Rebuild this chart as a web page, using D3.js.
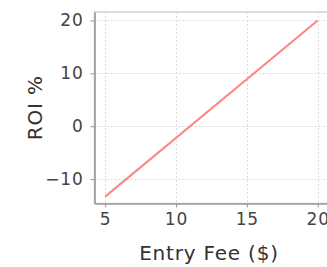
<!DOCTYPE html>
<html>
<head>
<meta charset="utf-8">
<script src="https://cdn.jsdelivr.net/npm/d3@7"></script>
<style>
  body { margin: 0; background: #fff; }
  svg { display: block; }
</style>
</head>
<body>
<div id="chart"></div>
<script>
var fees = [5, 20],
    roi = [-13.3, 20],
    xTicks = [5, 10, 15, 20],
    yTicks = [-10, 0, 10, 20];

var W = 327, H = 267,
    pl = 94.5, pt = 12, pr = 328.3, pb = 203.5;

var x = d3.scaleLinear().domain([4.25, 20.75]).range([pl, pr]);
var y = d3.scaleLinear().domain([-14.6, 21.6]).range([pb, pt]);

var svg = d3.select("#chart").append("svg")
    .attr("width", W)
    .attr("height", H);

// plot frame
svg.append("rect")
    .attr("x", pl).attr("y", pt)
    .attr("width", pr - pl).attr("height", pb - pt)
    .attr("fill", "#fff")
    .attr("stroke", "#cfcfcf")
    .attr("stroke-width", 1.5);

// grid
svg.append("g").selectAll("line")
    .data(xTicks)
  .enter().append("line")
    .attr("x1", function(d) { return Math.round(x(d)) + 0.5; })
    .attr("x2", function(d) { return Math.round(x(d)) + 0.5; })
    .attr("y1", pt).attr("y2", pb)
    .attr("stroke", "#dadada")
    .attr("stroke-dasharray", "2,2");

svg.append("g").selectAll("line")
    .data(yTicks)
  .enter().append("line")
    .attr("y1", function(d) { return Math.round(y(d)) + 0.5; })
    .attr("y2", function(d) { return Math.round(y(d)) + 0.5; })
    .attr("x1", pl).attr("x2", pr)
    .attr("stroke", "#dadada")
    .attr("stroke-dasharray", "2,2");

// axes
var xAxis = svg.append("g")
    .attr("transform", "translate(0," + pb + ")")
    .call(d3.axisBottom(x).tickValues(xTicks).tickSize(4).tickPadding(5).tickSizeOuter(0));
var yAxis = svg.append("g")
    .attr("transform", "translate(" + pl + ",0)")
    .call(d3.axisLeft(y).tickValues(yTicks).tickSize(4).tickPadding(7).tickSizeOuter(0)
      .tickFormat(function(d) { return d < 0 ? "\u2212" + Math.abs(d) : d; }));

[xAxis, yAxis].forEach(function(a) {
  a.selectAll(".domain").attr("stroke", "#999").attr("stroke-width", 1.6);
  a.selectAll(".tick line").attr("stroke", "#999");
  a.selectAll(".tick text")
    .attr("font-size", 17)
    .attr("font-family", "DejaVu Sans, sans-serif")
    .attr("letter-spacing", 0.8)
    .attr("fill", "#444");
});

// series
var pts = fees.map(function(f, i) { return [f, roi[i]]; });
svg.append("path")
    .datum(pts)
    .attr("fill", "none")
    .attr("stroke", "#ff8585")
    .attr("stroke-width", 2)
    .attr("d", d3.line()
      .x(function(d) { return x(d[0]); })
      .y(function(d) { return y(d[1]); }));

// labels
svg.append("text")
    .attr("x", 209).attr("y", 260)
    .attr("text-anchor", "middle")
    .attr("font-family", "DejaVu Sans, sans-serif")
    .attr("font-size", 20)
    .attr("letter-spacing", 0.8)
    .attr("fill", "#333")
    .text("Entry Fee ($)");

svg.append("text")
    .attr("transform", "translate(42," + ((pt + pb) / 2) + ")rotate(-90)")
    .attr("text-anchor", "middle")
    .attr("font-family", "DejaVu Sans, sans-serif")
    .attr("font-size", 20)
    .attr("letter-spacing", 0.8)
    .attr("fill", "#333")
    .text("ROI %");
</script>
</body>
</html>
